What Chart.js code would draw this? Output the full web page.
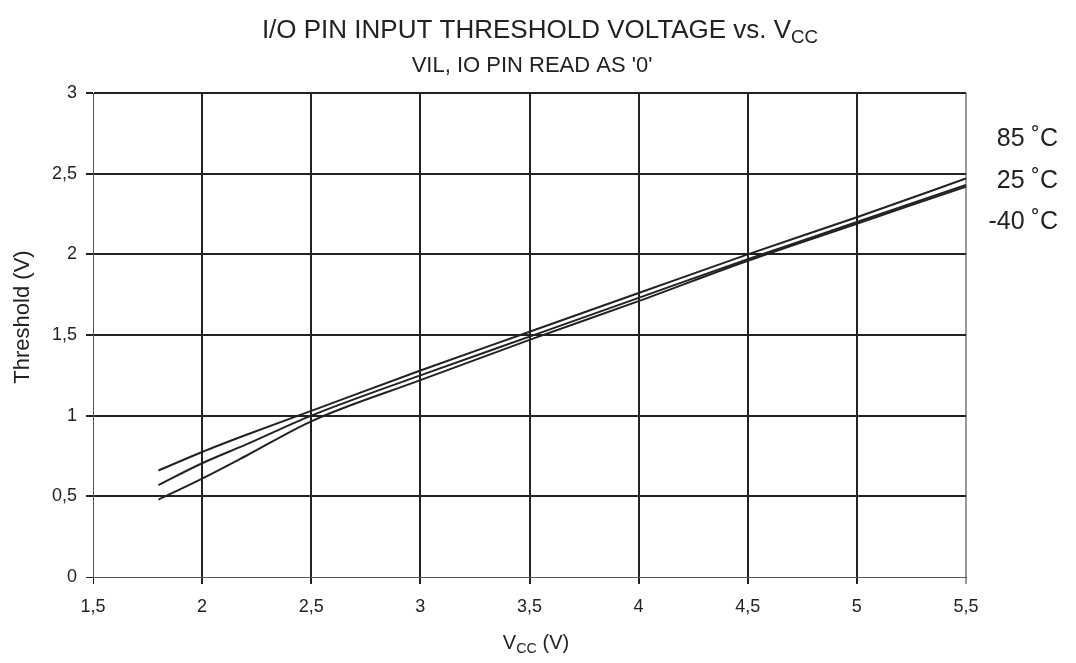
<!DOCTYPE html>
<html>
<head>
<meta charset="utf-8">
<script src="https://cdn.jsdelivr.net/npm/chart.js@4/dist/chart.umd.min.js"></script>
<style>
  html, body { margin: 0; padding: 0; background: #fff; }
  #wrap { width: 1076px; height: 663px; }
</style>
</head>
<body>
<div id="wrap"><canvas id="chart" width="1076" height="663"></canvas></div>
<script>
const FONT = "'Liberation Sans', Arial, sans-serif";

// supply voltage points (V)
const vcc = [1.8, 2.0, 2.2, 2.5, 3.0, 3.5, 4.0, 4.5, 5.0, 5.5];

// threshold (V)
const th85 = [0.66, 0.775, 0.88, 1.03, 1.28, 1.52, 1.76, 2.00, 2.23, 2.47];
const th25 = [0.57, 0.705, 0.82, 1.00, 1.25, 1.49, 1.73, 1.97, 2.20, 2.43];
const thM40 = [0.48, 0.61, 0.75, 0.965, 1.22, 1.47, 1.71, 1.96, 2.19, 2.42];

const seriesNames = ["85 ˚C", "25 ˚C", "-40 ˚C"];
const xTicks = [1.5, 2, 2.5, 3, 3.5, 4, 4.5, 5, 5.5];
const yTicks = [0, 0.5, 1, 1.5, 2, 2.5, 3];

function pts(ys) {
  return vcc.map((x, i) => ({ x: x, y: ys[i] }));
}
function comma(v) {
  return String(v).replace(".", ",");
}

// text with a smaller, lowered "CC" piece
function drawSub(ctx, parts, cx, y, size) {
  let total = 0;
  parts.forEach(p => {
    ctx.font = (p.sub ? size * 0.72 : size) + "px " + FONT;
    p.w = ctx.measureText(p.t).width;
    total += p.w;
  });
  let x = cx - total / 2;
  ctx.textAlign = "left";
  ctx.textBaseline = "alphabetic";
  parts.forEach(p => {
    ctx.font = (p.sub ? size * 0.72 : size) + "px " + FONT;
    ctx.fillText(p.t, x, p.sub ? y + size * 0.2 : y);
    x += p.w;
  });
}

const labelsPlugin = {
  id: "labels",
  afterDraw(chart) {
    const ctx = chart.ctx;
    ctx.save();
    ctx.fillStyle = "#222";
    drawSub(ctx, [{ t: "I/O PIN INPUT THRESHOLD VOLTAGE vs. V" }, { t: "CC", sub: true }], 540, 38, 26);
    ctx.font = "22px " + FONT;
    ctx.textAlign = "center";
    ctx.fillText("VIL, IO PIN READ AS '0'", 532, 72);
    drawSub(ctx, [{ t: "V" }, { t: "CC", sub: true }, { t: " (V)" }], 536, 649, 20);

    // y axis title
    ctx.save();
    ctx.translate(23, 317);
    ctx.rotate(-Math.PI / 2);
    ctx.font = "22px " + FONT;
    ctx.textAlign = "center";
    ctx.textBaseline = "middle";
    ctx.fillText("Threshold (V)", 0, 0);
    ctx.restore();

    ctx.font = "25px " + FONT;
    ctx.textAlign = "right";
    ctx.textBaseline = "middle";
    const ys = [139, 181, 222];
    seriesNames.forEach((n, i) => ctx.fillText(n, 1058, ys[i]));
    ctx.restore();
  }
};

new Chart(document.getElementById("chart"), {
  type: "line",
  data: {
    datasets: [th85, th25, thM40].map((d, i) => ({
      label: seriesNames[i],
      data: pts(d),
      borderColor: "#222",
      borderWidth: 2,
      pointRadius: 0,
      cubicInterpolationMode: "monotone",
      fill: false
    }))
  },
  options: {
    responsive: false,
    animation: false,
    layout: { padding: { top: 93, right: 110, left: 0, bottom: 0 } },
    plugins: {
      legend: { display: false },
      tooltip: { enabled: false }
    },
    scales: {
      x: {
        type: "linear",
        min: 1.5,
        max: 5.5,
        afterFit: s => { s.height = 86; },
        afterBuildTicks: s => { s.ticks = xTicks.map(v => ({ value: v })); },
        border: { color: "#555", width: 1 },
        grid: {
          color: c => c.index === xTicks.length - 1 ? "#999" : "#222",
          lineWidth: c => c.index === 0 ? 1 : 2,
          tickLength: 7
        },
        ticks: {
          callback: v => comma(v),
          color: "#222",
          font: { family: FONT, size: 18 },
          padding: 12,
          maxRotation: 0
        }
      },
      y: {
        min: 0,
        max: 3,
        afterFit: s => { s.width = 93; },
        afterBuildTicks: s => { s.ticks = yTicks.map(v => ({ value: v })); },
        border: { color: "#555", width: 1 },
        grid: {
          color: "#222",
          lineWidth: c => c.index === 0 ? 1 : 2,
          tickLength: 7
        },
        ticks: {
          callback: v => comma(v),
          color: "#222",
          font: { family: FONT, size: 18 },
          padding: 9
        }
      }
    }
  },
  plugins: [labelsPlugin]
});
</script>
</body>
</html>
